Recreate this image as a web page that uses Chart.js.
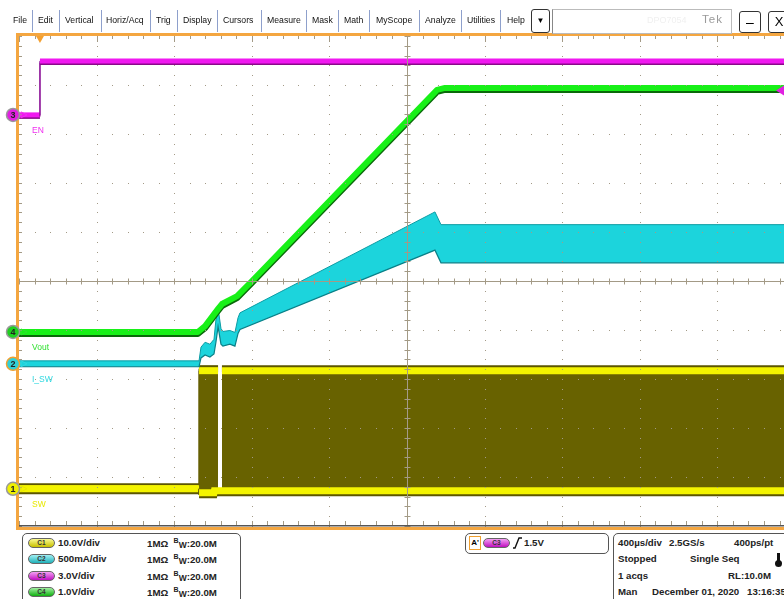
<!DOCTYPE html>
<html>
<head>
<meta charset="utf-8">
<script src="https://cdn.jsdelivr.net/npm/chart.js@4.4.1/dist/chart.umd.min.js"></script>
<style>
  body { margin: 0; background: #fff; font-family: "Liberation Sans", Arial, sans-serif; }
  #wrap { position: relative; width: 784px; height: 599px; overflow: hidden; }
  #scope { position: absolute; left: 0; top: 0; }
  .m { position: absolute; top: 15px; font-size: 8.7px; color: #111; white-space: nowrap; }
  .sep { position: absolute; top: 10px; width: 1px; height: 22px; background: #8ea0cc; }
  .box { position: absolute; border: 1px solid #555; border-radius: 5px; background: #fff; }
  .t { position: absolute; font-size: 9.7px; font-weight: bold; color: #222; white-space: nowrap; }
  .pill { position: absolute; width: 25px; height: 8px; border: 1px solid #666; border-radius: 5px;
          font-size: 6.5px; font-weight: bold; color: #333; text-align: center; line-height: 8px; }
  .btn { position: absolute; border: 1px solid #333; border-radius: 3px; background: #fff; text-align: center; }
</style>
</head>
<body>
<div id="wrap">
  <canvas id="scope" width="784" height="599"></canvas>

  <!-- menu bar -->
  <span class="m" style="left:13px">File</span><div class="sep" style="left:32px"></div>
  <span class="m" style="left:38px">Edit</span><div class="sep" style="left:59px"></div>
  <span class="m" style="left:65px">Vertical</span><div class="sep" style="left:101px"></div>
  <span class="m" style="left:106px">Horiz/Acq</span><div class="sep" style="left:150px"></div>
  <span class="m" style="left:156px">Trig</span><div class="sep" style="left:177px"></div>
  <span class="m" style="left:183px">Display</span><div class="sep" style="left:217px"></div>
  <span class="m" style="left:223px">Cursors</span><div class="sep" style="left:261px"></div>
  <span class="m" style="left:267px">Measure</span><div class="sep" style="left:306px"></div>
  <span class="m" style="left:312px">Mask</span><div class="sep" style="left:338px"></div>
  <span class="m" style="left:344px">Math</span><div class="sep" style="left:369px"></div>
  <span class="m" style="left:376px">MyScope</span><div class="sep" style="left:419px"></div>
  <span class="m" style="left:425px">Analyze</span><div class="sep" style="left:461px"></div>
  <span class="m" style="left:467px">Utilities</span><div class="sep" style="left:500px"></div>
  <span class="m" style="left:507px">Help</span>
  <div class="btn" style="left:531px;top:9px;width:17px;height:22px;font-size:8px;line-height:22px">&#9660;</div>
  <div style="position:absolute;left:552px;top:9px;width:178px;height:23px;border:1px solid #bbb;border-left:1px solid #888"></div>
  <span style="position:absolute;left:647px;top:15px;font-size:9px;color:#f0f0f0">DPO7054</span>
  <span style="position:absolute;left:702px;top:13px;font-size:11.5px;color:#9a9a9a;letter-spacing:1px">Tek</span>
  <div class="btn" style="left:739px;top:11px;width:20px;height:20px;font-size:14px;line-height:20px">&#8211;</div>
  <div class="btn" style="left:768px;top:11px;width:20px;height:20px;font-size:13px;line-height:20px">X</div>

  <!-- channel settings -->
  <div class="box" style="left:22px;top:533px;width:217px;height:80px"></div>
  <div class="pill" style="left:28px;top:538px;background:linear-gradient(#fafa90,#c8c000)">C1</div>
  <div class="pill" style="left:28px;top:554px;background:linear-gradient(#a0f0f4,#20b0b8)">C2</div>
  <div class="pill" style="left:28px;top:571px;background:linear-gradient(#f4a0f4,#c010c0)">C3</div>
  <div class="pill" style="left:28px;top:587px;background:linear-gradient(#a0f0a0,#10b010)">C4</div>
  <span class="t" style="left:58px;top:537px">10.0V/div</span>
  <span class="t" style="left:58px;top:553px">500mA/div</span>
  <span class="t" style="left:58px;top:570px">3.0V/div</span>
  <span class="t" style="left:58px;top:586px">1.0V/div</span>
  <span class="t" style="left:147px;top:537px">1MΩ&nbsp;&nbsp;<sup style="font-size:7px">B</sup><sub style="font-size:8.5px;vertical-align:-1px">W</sub>:20.0M</span>
  <span class="t" style="left:147px;top:553px">1MΩ&nbsp;&nbsp;<sup style="font-size:7px">B</sup><sub style="font-size:8.5px;vertical-align:-1px">W</sub>:20.0M</span>
  <span class="t" style="left:147px;top:570px">1MΩ&nbsp;&nbsp;<sup style="font-size:7px">B</sup><sub style="font-size:8.5px;vertical-align:-1px">W</sub>:20.0M</span>
  <span class="t" style="left:147px;top:586px">1MΩ&nbsp;&nbsp;<sup style="font-size:7px">B</sup><sub style="font-size:8.5px;vertical-align:-1px">W</sub>:20.0M</span>

  <!-- trigger -->
  <div class="box" style="left:465px;top:533px;width:142px;height:19px"></div>
  <div style="position:absolute;left:469px;top:536px;width:10px;height:12px;border:1px solid #f0a030;font-size:8px;font-weight:bold;line-height:12px;text-align:center">A'</div>
  <div class="pill" style="left:483px;top:538px;background:linear-gradient(#f4a0f4,#c010c0)">C3</div>
  <svg style="position:absolute;left:512px;top:537px" width="11" height="12"><path d="M1 11 H3 L7 1 H10" stroke="#111" stroke-width="1.4" fill="none"/></svg>
  <span class="t" style="left:524px;top:537px">1.5V</span>

  <!-- horizontal / acquisition -->
  <div class="box" style="left:613px;top:533px;width:190px;height:80px"></div>
  <span class="t" style="left:618px;top:537px">400µs/div</span>
  <span class="t" style="left:669px;top:537px">2.5GS/s</span>
  <span class="t" style="left:734px;top:537px">400ps/pt</span>
  <span class="t" style="left:618px;top:553px">Stopped</span>
  <span class="t" style="left:690px;top:553px">Single Seq</span>
  <div style="position:absolute;left:777px;top:553px;width:2.5px;height:10px;background:#111"></div>
  <div style="position:absolute;left:775px;top:560px;width:6.5px;height:6.5px;border-radius:3.5px;background:#111"></div>
  <span class="t" style="left:618px;top:570px">1 acqs</span>
  <span class="t" style="left:728px;top:570px">RL:10.0M</span>
  <span class="t" style="left:618px;top:586px">Man</span>
  <span class="t" style="left:652px;top:586px">December 01, 2020</span>
  <span class="t" style="left:747px;top:586px">13:16:35</span>
</div>

<script>
// screen settings (time in µs, trigger at 0)
const timePerDiv = 400;
const timeLeft = -108;
const timeRight = 3835;
const chNames = ["SW", "I_SW", "EN", "Vout"];
const chNumbers = ["1", "2", "3", "4"];
const chPerDiv = [10, 0.5, 3, 1];
const chOffsetDiv = [-4.24, -1.69, 3.39, -1.04];
const trigLevel = 1.5; // on C3

// C3 EN (V)
const enTime = [-108, 0, 0, 3835];
const enVolts = [0, 0, 3.3, 3.3];

// C4 Vout (V)
const voutTime = [-108, 814, 851, 918, 938, 1016, 1093, 2047, 2088, 3835];
const voutVolts = [0, 0, 0.12, 0.47, 0.57, 0.73, 1.04, 4.94, 4.98, 4.98];

// C2 inductor current envelope (A)
const iswTime = [-108, 820, 830, 851, 876, 897, 907, 918, 923, 933, 943, 979, 1005, 1021, 1031, 2036, 2067, 3835];
const iswUpper = [0.03, 0.03, 0.17, 0.22, 0.20, 0.25, 0.45, 0.55, 0.50, 0.36, 0.33, 0.34, 0.32, 0.47, 0.52, 1.55, 1.42, 1.42];
const iswLower = [-0.03, -0.03, 0.06, 0.09, 0.07, 0.10, 0.22, 0.38, 0.32, 0.20, 0.18, 0.20, 0.18, 0.31, 0.35, 1.16, 1.03, 1.03];

// C1 switch node envelope (V)
const swHighTime = [-108, 820, 820, 918, 925, 938, 3835];
const swHigh = [0, 0, 24.1, 24.1, null, 24.1, 24.1];
const swLowTime = [-108, 820, 820, 897, 899, 3835];
const swLow = [0, 0, -0.8, -0.8, -0.4, -0.4];

function toDiv(ch, times, values) {
  return times.map((t, i) => ({ x: t, y: values[i] === null ? null : chOffsetDiv[ch] + values[i] / chPerDiv[ch] }));
}

const isVertical = ctx => ctx.p0.parsed.x === ctx.p1.parsed.x;

const gridColor = "#a39a86";

const scopePlugin = {
  id: "scope",
  beforeDatasetDraw(chart, args) {
    const ds = chart.data.datasets[args.index];
    if (ds.shadowColor) {
      const c = chart.ctx;
      c.save();
      c.shadowColor = ds.shadowColor;
      c.shadowOffsetY = ds.shadowY;
      c.shadowBlur = 0;
    }
  },
  afterDatasetDraw(chart, args) {
    if (chart.data.datasets[args.index].shadowColor) chart.ctx.restore();
  },
  afterDatasetsDraw(chart) {
    const c = chart.ctx, xs = chart.scales.x, ys = chart.scales.y, a = chart.chartArea;
    c.save();
    c.fillStyle = gridColor;
    c.strokeStyle = gridColor;
    c.lineWidth = 1;
    const minorT = [], minorV = [];
    for (let j = 0; j <= 55; j++) minorT.push(timeLeft + j * timePerDiv / 5);
    for (let j = 0; j <= 50; j++) minorV.push(-5 + j * 0.2);
    // dotted graticule
    for (let k = -4; k <= 4; k++) {
      if (k === 0) continue;
      const py = Math.round(ys.getPixelForValue(k));
      minorT.forEach(t => c.fillRect(Math.round(xs.getPixelForValue(t)), py, 1, 1));
    }
    for (let k = 1; k <= 9; k++) {
      if (k === 5) continue;
      const px = Math.round(xs.getPixelForValue(timeLeft + k * timePerDiv));
      minorV.forEach(v => c.fillRect(px, Math.round(ys.getPixelForValue(v)), 1, 1));
    }
    // center cross with ticks
    const cy = Math.round(ys.getPixelForValue(0)) + 0.5;
    const cx = Math.round(xs.getPixelForValue(timeLeft + 5 * timePerDiv)) + 0.5;
    c.beginPath();
    c.moveTo(a.left, cy); c.lineTo(a.right, cy);
    c.moveTo(cx, a.top); c.lineTo(cx, a.bottom);
    minorT.forEach(t => {
      const px = Math.round(xs.getPixelForValue(t)) + 0.5;
      c.moveTo(px, cy - 3); c.lineTo(px, cy + 3);
      c.moveTo(px, a.top); c.lineTo(px, a.top + (((t - timeLeft) % timePerDiv) ? 3 : 6));
      c.moveTo(px, a.bottom - 1); c.lineTo(px, a.bottom - 5);
    });
    minorV.forEach(v => {
      const py = Math.round(ys.getPixelForValue(v)) + 0.5;
      c.moveTo(cx - 3, py); c.lineTo(cx + 3, py);
      c.moveTo(a.left, py); c.lineTo(a.left + 3, py);
    });
    c.stroke();
    c.fillStyle = "#555";
    c.fillRect(a.left, a.bottom - 1, a.right - a.left, 1.5);
    c.restore();
  },
  afterDraw(chart) {
    const c = chart.ctx, xs = chart.scales.x, ys = chart.scales.y, a = chart.chartArea;
    c.save();
    // orange frame
    c.fillStyle = "#f4a640";
    c.fillRect(a.left - 3, a.top - 3, a.right - a.left + 3, 3);
    c.fillRect(a.left - 3, a.top - 3, 3, a.bottom - a.top + 7);
    c.fillRect(a.left - 3, a.bottom + 1, a.right - a.left + 3, 3);
    // trigger position
    const tx = xs.getPixelForValue(0);
    c.fillStyle = "#f4a030";
    c.beginPath();
    c.moveTo(tx - 4, a.top); c.lineTo(tx + 4, a.top); c.lineTo(tx, a.top + 7); c.closePath(); c.fill();
    // trigger level on C3
    const ty = ys.getPixelForValue(chOffsetDiv[2] + trigLevel / chPerDiv[2]);
    c.fillStyle = "#e020e0";
    c.beginPath();
    c.moveTo(a.right - 8, ty); c.lineTo(a.right, ty - 5); c.lineTo(a.right, ty + 5); c.closePath(); c.fill();
    // channel markers
    const fills = ["#f0f000", "#30d0d8", "#e020e0", "#20d020"];
    const rings = ["#999", "#f0a030", "#999", "#999"];
    const labelColors = ["#e8e800", "#30d8e0", "#f030f0", "#30e030"];
    chNames.forEach((name, i) => {
      const py = ys.getPixelForValue(chOffsetDiv[i]);
      c.beginPath();
      c.arc(13, py, 6.5, 0, Math.PI * 2);
      c.fillStyle = fills[i]; c.fill();
      c.lineWidth = 1.5; c.strokeStyle = rings[i]; c.stroke();
      c.fillStyle = "#222";
      c.font = "bold 9px 'Liberation Sans', Arial";
      c.textAlign = "center"; c.textBaseline = "middle";
      c.fillText(chNumbers[i], 13, py + 0.5);
      c.beginPath();
      c.moveTo(21, py - 3); c.lineTo(27, py); c.lineTo(21, py + 3); c.closePath();
      c.lineWidth = 1; c.strokeStyle = labelColors[i]; c.stroke();
      c.fillStyle = labelColors[i];
      c.font = "8.5px 'Liberation Sans', Arial";
      c.textAlign = "left";
      c.fillText(name, 32, py + 16);
    });
    c.restore();
  }
};

new Chart(document.getElementById("scope"), {
  type: "line",
  data: {
    datasets: [
      {
        data: toDiv(2, enTime, enVolts), order: 0,
        borderColor: "#f018f0", borderWidth: 5, shadowColor: "#8a088a", shadowY: 1.5,
        segment: { borderWidth: ctx => isVertical(ctx) ? 1.2 : 5, borderColor: ctx => isVertical(ctx) ? "#9020a0" : "#f018f0" }
      },
      {
        data: toDiv(3, voutTime, voutVolts), order: 1,
        borderColor: "#18f018", borderWidth: 6, borderJoinStyle: "round", shadowColor: "#0a6a0a", shadowY: 2
      },
      {
        data: toDiv(1, iswTime, iswUpper), order: 3,
        borderColor: "#0c9ca4", borderWidth: 1, backgroundColor: "#1cd4dc", fill: "+1"
      },
      {
        data: toDiv(1, iswTime, iswLower), order: 2,
        borderColor: "#0a8088", borderWidth: 1.2
      },
      {
        data: toDiv(0, swHighTime, swHigh), order: 5,
        borderColor: "#f4f400", borderWidth: 7, backgroundColor: "#686200", fill: "+1",
        shadowColor: "#5c5600", shadowY: -2,
        segment: { borderWidth: ctx => isVertical(ctx) ? 1 : 7, borderColor: ctx => isVertical(ctx) ? "#686200" : "#f4f400" }
      },
      {
        data: toDiv(0, swLowTime, swLow), order: 4,
        borderColor: "#f4f400", borderWidth: 7, shadowColor: "#5c5600", shadowY: 2,
        segment: { borderWidth: ctx => isVertical(ctx) ? 1 : 7, borderColor: ctx => isVertical(ctx) ? "#686200" : "#f4f400" }
      }
    ]
  },
  options: {
    responsive: false,
    animation: false,
    spanGaps: false,
    layout: { padding: { left: 19, top: 36, right: 0, bottom: 73 } },
    elements: { point: { radius: 0, hoverRadius: 0 }, line: { tension: 0 } },
    scales: {
      x: { type: "linear", min: timeLeft, max: timeRight, display: false },
      y: { type: "linear", min: -5, max: 5, display: false }
    },
    plugins: { legend: { display: false }, tooltip: { enabled: false } }
  },
  plugins: [scopePlugin]
});
</script>
</body>
</html>
